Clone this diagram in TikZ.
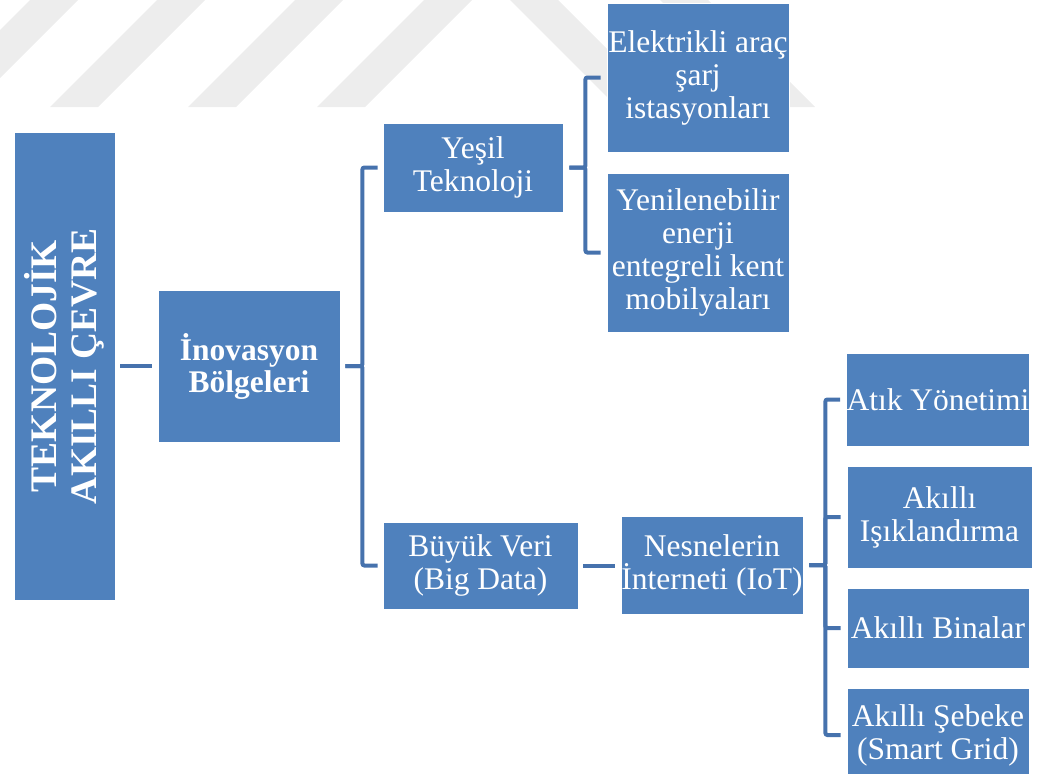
\documentclass[tikz,border=0pt]{standalone}
\usepackage{fontspec}
\setmainfont{Liberation Serif}
\definecolor{boxblue}{RGB}{79,129,189}
\definecolor{linkblue}{RGB}{70,114,173}
\definecolor{wmgray}{RGB}{237,237,237}
\begin{document}
\begin{tikzpicture}[x=1pt,y=-1pt,
  box/.style={fill=boxblue, draw=white, line width=0.8pt, text=white, align=center,
    inner sep=0pt, font=\fontsize{31.5}{33}\selectfont},
  conn/.style={draw=linkblue, line width=4pt, rounded corners=2pt}]
\useasboundingbox (0,0) rectangle (1045,774);
\clip (0,0) rectangle (1045,774);

% faint background stripes along the top
\foreach \a in {30,157,295,424}
  \fill[wmgray] (\a,0) -- (\a+48,0) -- (\a-59,107) -- (\a-107,107) -- cycle;
\foreach \a in {510,660}
  \fill[wmgray] (\a,0) -- (\a+48,0) -- (\a+155,107) -- (\a+107,107) -- cycle;

% boxes
\node[box, rotate=90, minimum width=468pt, minimum height=101pt,
      font=\fontsize{37.5}{40}\selectfont\bfseries] (tek) at (64.5,366) {TEKNOLOJİK\\AKILLI ÇEVRE};
\node[box, minimum width=182pt, minimum height=152pt,
      font=\fontsize{31.5}{32}\selectfont\bfseries] (inov) at (249,366) {İnovasyon\\Bölgeleri};
\node[box, minimum width=180pt, minimum height=89pt] (yesil) at (473,167.5) {Yeşil\\Teknoloji};
\node[box, minimum width=195pt, minimum height=87pt] (buyuk) at (480.5,565.5) {Büyük Veri\\(Big Data)};
\node[box, minimum width=182pt, minimum height=149pt] (elek) at (698,77.5) {Elektrikli araç\\şarj\\istasyonları};
\node[box, minimum width=182pt, minimum height=159pt] (yenil) at (698,252.5) {Yenilenebilir\\enerji\\entegreli kent\\mobilyaları};
\node[box, minimum width=182pt, minimum height=98pt] (nesne) at (712,565) {Nesnelerin\\İnterneti (IoT)};
\node[box, minimum width=182pt, minimum height=93pt] (atik) at (938,399.5) {Atık Yönetimi};
\node[box, minimum width=185pt, minimum height=102pt] (isik) at (939.5,517) {Akıllı\\Işıklandırma};
\node[box, minimum width=182pt, minimum height=80pt] (bina) at (938,628) {Akıllı Binalar};
\node[box, minimum width=182pt, minimum height=94pt] (sebeke) at (938,735) {Akıllı Şebeke\\(Smart Grid)};

% connectors
\draw[conn, shorten <=5pt, shorten >=6pt] (tek) -- (inov);
\draw[conn] ([xshift=5pt]inov.east) -- ++(17,0) |- ([xshift=-5pt]yesil.west);
\draw[conn] ([xshift=5pt]inov.east) -- ++(17,0) |- ([xshift=-5pt]buyuk.west);
\draw[conn] ([xshift=6pt]yesil.east) -- ++(16,0) |- ([xshift=-6pt]elek.west);
\draw[conn] ([xshift=6pt]yesil.east) -- ++(16,0) |- ([xshift=-6pt]yenil.west);
\draw[conn, shorten <=5pt, shorten >=6pt] (buyuk.east) -- (buyuk.east -| nesne.west);
\draw[conn] ([xshift=6pt]nesne.east) -- ++(16,0) |- ([xshift=-6pt]atik.west);
\draw[conn] ([xshift=6pt]nesne.east) -- ++(16,0) |- ([xshift=-6pt]isik.west);
\draw[conn] ([xshift=6pt]nesne.east) -- ++(16,0) |- ([xshift=-6pt]bina.west);
\draw[conn] ([xshift=6pt]nesne.east) -- ++(16,0) |- ([xshift=-6pt]sebeke.west);
\end{tikzpicture}
\end{document}
